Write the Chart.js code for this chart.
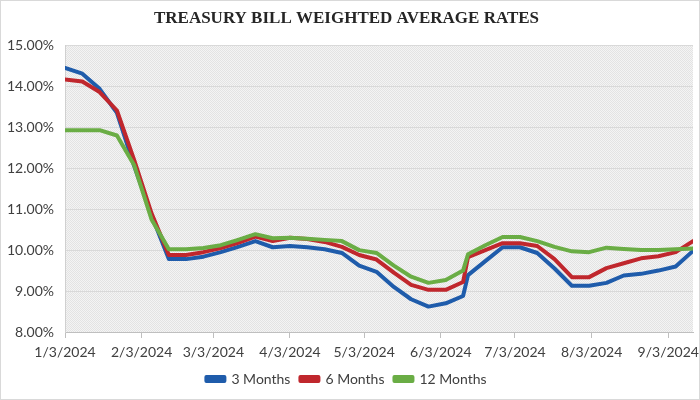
<!DOCTYPE html>
<html>
<head>
<meta charset="utf-8">
<script src="https://cdn.jsdelivr.net/npm/chart.js@4"></script>
<style>
  html, body { margin: 0; padding: 0; background: #fff; }
  #wrap { width: 700px; height: 400px; }
</style>
</head>
<body>
<div id="wrap"><canvas id="rates" width="700" height="400"></canvas></div>
<script>
// auction dates (weekly, Wednesdays until mid June, then Fridays)
var dates = ['1/3/2024', '1/10/2024', '1/17/2024', '1/24/2024', '1/31/2024', '2/7/2024', '2/14/2024', '2/21/2024',
    '2/28/2024', '3/6/2024', '3/13/2024', '3/20/2024', '3/27/2024', '4/3/2024', '4/10/2024', '4/17/2024',
    '4/24/2024', '5/1/2024', '5/8/2024', '5/15/2024', '5/22/2024', '5/29/2024', '6/5/2024', '6/12/2024',
    '6/14/2024', '6/21/2024', '6/28/2024', '7/5/2024', '7/12/2024', '7/19/2024', '7/26/2024', '8/2/2024',
    '8/9/2024', '8/16/2024', '8/23/2024', '8/30/2024', '9/6/2024', '9/13/2024'];

var months3 = [14.45, 14.31, 13.94, 13.35, 12.05, 10.85, 9.78, 9.78, 9.84, 9.95, 10.08, 10.22, 10.07, 10.10,
    10.07, 10.02, 9.93, 9.62, 9.47, 9.10, 8.80, 8.62, 8.70, 8.88, 9.39, 9.73, 10.07, 10.07, 9.93, 9.55,
    9.13, 9.13, 9.20, 9.38, 9.42, 9.50, 9.60, 9.98];
var months6 = [14.17, 14.12, 13.86, 13.41, 12.20, 10.90, 9.88, 9.88, 9.95, 10.05, 10.18, 10.33, 10.22, 10.30,
    10.27, 10.20, 10.08, 9.88, 9.77, 9.45, 9.15, 9.03, 9.03, 9.22, 9.83, 10.00, 10.17, 10.17, 10.10, 9.78,
    9.34, 9.34, 9.56, 9.68, 9.80, 9.85, 9.95, 10.22];
var months12 = [12.93, 12.93, 12.93, 12.80, 12.07, 10.75, 10.02, 10.02, 10.05, 10.12, 10.25, 10.39, 10.29, 10.30,
    10.28, 10.25, 10.22, 10.00, 9.93, 9.62, 9.35, 9.20, 9.27, 9.50, 9.90, 10.12, 10.32, 10.32, 10.22, 10.08,
    9.97, 9.95, 10.06, 10.03, 10.00, 10.00, 10.02, 10.04];

// x axis tick labels
var tickLabels = ['1/3/2024', '2/3/2024', '3/3/2024', '4/3/2024', '5/3/2024', '6/3/2024', '7/3/2024', '8/3/2024', '9/3/2024'];

function toDay(s) {
    var p = s.split('/');
    return Date.UTC(+p[2], +p[0] - 1, +p[1]) / 86400000;
}
var day0 = toDay(dates[0]);
var xs = dates.map(function(d) { return toDay(d) - day0; });
var tickDays = tickLabels.map(function(d) { return toDay(d) - day0; });

function pts(vals) {
    return vals.map(function(v, i) { return { x: xs[i], y: v }; });
}

// dotted grey fill of the plot area
var pat = document.createElement('canvas');
pat.width = 2; pat.height = 2;
var pc = pat.getContext('2d');
pc.fillStyle = '#f4f4f4'; pc.fillRect(0, 0, 2, 2);
pc.fillStyle = '#e3e3e3'; pc.fillRect(0, 0, 1, 1); pc.fillRect(1, 1, 1, 1);

var backdrop = {
    id: 'backdrop',
    beforeDraw: function(chart) {
        var c = chart.ctx, a = chart.chartArea;
        c.save();
        c.fillStyle = '#ffffff';
        c.fillRect(0, 0, chart.width, chart.height);
        c.fillStyle = c.createPattern(pat, 'repeat');
        c.fillRect(a.left, a.top, a.right - a.left, a.bottom - a.top);
        c.restore();
    },
    afterDraw: function(chart) {
        var c = chart.ctx;
        c.save();
        c.strokeStyle = '#d9d9d9';
        c.lineWidth = 1;
        c.strokeRect(0.5, 0.5, chart.width - 1, chart.height - 1);
        c.restore();
    }
};

var ratesChart = new Chart(document.getElementById('rates'), {
    type: 'line',
    data: {
        datasets: [
            { label: '3 Months', data: pts(months3), borderColor: '#1f5cab', backgroundColor: '#1f5cab', order: 3 },
            { label: '6 Months', data: pts(months6), borderColor: '#c0272d', backgroundColor: '#c0272d', order: 2 },
            { label: '12 Months', data: pts(months12), borderColor: '#6aad45', backgroundColor: '#6aad45', order: 1 }
        ]
    },
    options: {
        responsive: false,
        animation: false,
        layout: { padding: { left: 0, right: 7, top: 0, bottom: 4 } },
        elements: {
            line: { borderWidth: 4, tension: 0, borderCapStyle: 'round', borderJoinStyle: 'round' },
            point: { radius: 0 }
        },
        scales: {
            x: {
                type: 'linear',
                min: 0,
                max: xs[xs.length - 1],
                afterBuildTicks: function(scale) {
                    scale.ticks = tickDays.map(function(v) { return { value: v }; });
                },
                afterFit: function(scale) {
                    scale.height = 30;
                    scale.paddingRight = 0;
                },
                ticks: {
                    autoSkip: false,
                    maxRotation: 0,
                    padding: 6,
                    color: '#404040',
                    font: { family: 'Lato', size: 14 },
                    callback: function(v) {
                        var i = tickDays.indexOf(v);
                        return i >= 0 ? tickLabels[i] : '';
                    }
                },
                grid: { drawOnChartArea: false, drawTicks: true, tickLength: 6, color: '#bfbfbf' },
                border: { display: true, color: '#bfbfbf' }
            },
            y: {
                min: 8,
                max: 15,
                afterFit: function(scale) { scale.width = 65; },
                ticks: {
                    stepSize: 1,
                    padding: 11,
                    color: '#404040',
                    font: { family: 'Lato', size: 14 },
                    callback: function(v) { return v.toFixed(2) + '%'; }
                },
                grid: { color: '#d9d9d9', drawTicks: false },
                border: { display: true, color: '#d0d0d0' }
            }
        },
        plugins: {
            title: {
                display: true,
                text: 'TREASURY BILL WEIGHTED AVERAGE RATES',
                color: '#262626',
                font: { family: 'Liberation Serif', size: 17, weight: 'bold' },
                padding: { top: 8, bottom: 17 }
            },
            legend: {
                position: 'bottom',
                labels: {
                    boxWidth: 18,
                    boxHeight: 4,
                    padding: 10,
                    color: '#404040',
                    font: { family: 'Lato', size: 14 },
                    sort: function(a, b) { return a.datasetIndex - b.datasetIndex; }
                }
            },
            tooltip: { enabled: false }
        }
    },
    plugins: [backdrop]
});
</script>
</body>
</html>
